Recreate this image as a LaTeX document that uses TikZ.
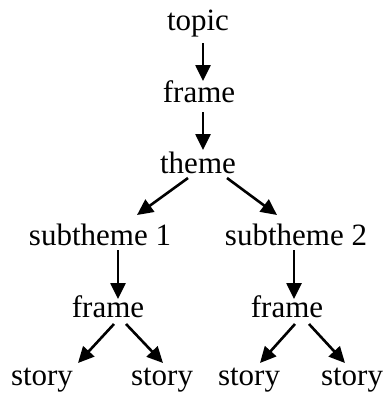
\documentclass[tikz,border=0pt]{standalone}
\usepackage{fontspec}
\setmainfont{Liberation Serif}
\usetikzlibrary{arrows.meta}
\begin{document}
\begin{tikzpicture}[x=1pt,y=-1pt,
  lbl/.style={anchor=base,inner sep=0pt,font=\fontsize{31}{37}\selectfont},
  arr/.style={line width=2.6pt,-{Triangle[length=16pt,width=15pt]}}]
\useasboundingbox (0,0) rectangle (387,394);
\node[lbl] (topic) at (198,30) {topic};
\node[lbl] (frame1) at (199,102) {frame};
\node[lbl] (theme) at (198,173) {theme};
\node[lbl] (sub1) at (100,245) {subtheme 1};
\node[lbl] (sub2) at (296,245) {subtheme 2};
\node[lbl] (frameL) at (108,317) {frame};
\node[lbl] (frameR) at (287,317) {frame};
\node[lbl] (st1) at (42,385) {story};
\node[lbl] (st2) at (162,385) {story};
\node[lbl] (st3) at (249,385) {story};
\node[lbl] (st4) at (352,385) {story};
\draw[arr] ([shift={(5pt,-13pt)}]topic.base) -- ([shift={(4pt,21pt)}]frame1.base);
\draw[arr] ([shift={(4pt,-10pt)}]frame1.base) -- ([shift={(5pt,23pt)}]theme.base);
\draw[arr] ([shift={(-10pt,-5pt)}]theme.base) -- ([shift={(37pt,30pt)}]sub1.base);
\draw[arr] ([shift={(29pt,-5pt)}]theme.base) -- ([shift={(-19pt,30pt)}]sub2.base);
\draw[arr] ([shift={(18pt,-5pt)}]sub1.base) -- ([shift={(10pt,18pt)}]frameL.base);
\draw[arr] ([shift={(-2pt,-5pt)}]sub2.base) -- ([shift={(7pt,18pt)}]frameR.base);
\draw[arr] ([shift={(6pt,-7pt)}]frameL.base) -- ([shift={(36pt,22pt)}]st1.base);
\draw[arr] ([shift={(18pt,-7pt)}]frameL.base) -- ([shift={(1pt,22pt)}]st2.base);
\draw[arr] ([shift={(8pt,-7pt)}]frameR.base) -- ([shift={(11pt,22pt)}]st3.base);
\draw[arr] ([shift={(22pt,-7pt)}]frameR.base) -- ([shift={(-7pt,22pt)}]st4.base);
\end{tikzpicture}
\end{document}
